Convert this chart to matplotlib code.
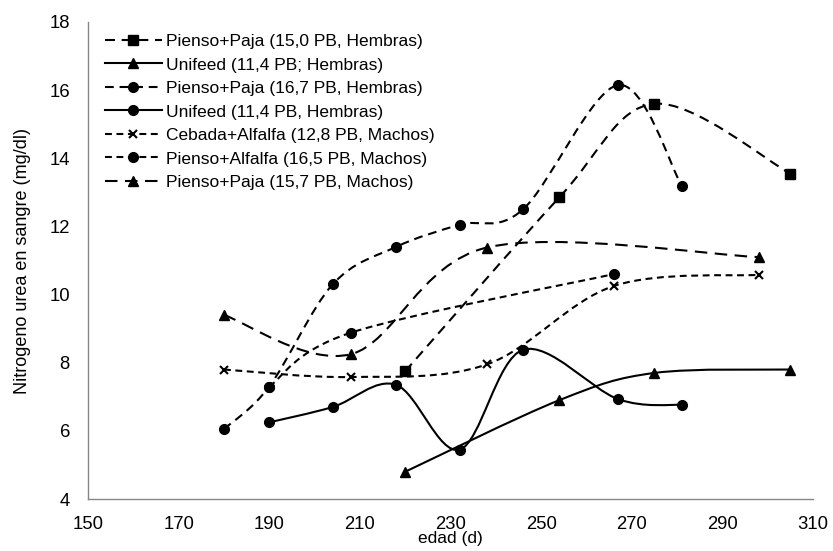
import numpy as np
import matplotlib
matplotlib.use('Agg')
import matplotlib.pyplot as plt
from matplotlib.path import Path
from matplotlib.patches import PathPatch
from matplotlib.lines import Line2D

plt.rcParams['font.family'] = ['Liberation Sans', 'DejaVu Sans']

# Datos
labels = ['Pienso+Paja (15,0 PB, Hembras)',
          'Unifeed (11,4 PB; Hembras)',
          'Pienso+Paja (16,7 PB, Hembras)',
          'Unifeed (11,4 PB, Hembras)',
          'Cebada+Alfalfa (12,8 PB, Machos)',
          'Pienso+Alfalfa (16,5 PB, Machos)',
          'Pienso+Paja (15,7 PB, Machos)']

pp150_x = [220, 254, 275, 305]
pp150_y = [7.75, 12.85, 15.6, 13.55]

uni_tri_x = [220, 254, 275, 305]
uni_tri_y = [4.8, 6.9, 7.7, 7.8]

pp167_x = [180, 190, 204, 218, 232, 246, 267, 281]
pp167_y = [6.05, 7.3, 10.3, 11.4, 12.05, 12.5, 16.15, 13.2]

uni_cir_x = [190, 204, 218, 232, 246, 267, 281]
uni_cir_y = [6.25, 6.7, 7.35, 5.45, 8.38, 6.93, 6.76]

ceb_x = [180, 208, 238, 266, 298]
ceb_y = [7.8, 7.58, 7.95, 10.25, 10.58]

pal_x = [190, 208, 266]
pal_y = [7.3, 8.88, 10.6]

pp157_x = [180, 208, 238, 298]
pp157_y = [9.4, 8.25, 11.38, 11.1]

series_x = [pp150_x, uni_tri_x, pp167_x, uni_cir_x, ceb_x, pal_x, pp157_x]
series_y = [pp150_y, uni_tri_y, pp167_y, uni_cir_y, ceb_y, pal_y, pp157_y]

# estilo de cada serie: (marcador, tamano, guiones)
long_dash = (0, (4.8, 3.2))
dash = (0, (4.2, 2.8))
longer_dash = (0, (6.0, 3.6))
short_dash = (0, (3.3, 2.2))
estilos = [('s', 7, long_dash),
           ('^', 7, '-'),
           ('o', 7, dash),
           ('o', 7, '-'),
           ('x', 6, short_dash),
           ('o', 7, short_dash),
           ('^', 7, longer_dash)]

lw = 1.5


def curva_suave(xs, ys):
    # curva tipo Excel (Bezier con control a 1/6)
    P = np.column_stack([xs, ys]).astype(float)
    n = len(P)
    verts = [P[0]]
    codes = [Path.MOVETO]
    for i in range(n - 1):
        p0 = P[i - 1] if i > 0 else P[i]
        p3 = P[i + 2] if i + 2 < n else P[i + 1]
        c1 = P[i] + (P[i + 1] - p0) / 6
        c2 = P[i + 1] - (p3 - P[i]) / 6
        verts += [c1, c2, P[i + 1]]
        codes += [Path.CURVE4] * 3
    return Path(verts, codes)


fig = plt.figure(figsize=(8.33, 5.51), dpi=100)
ax = fig.add_axes([88 / 833, 1 - 499 / 551, (813 - 88) / 833, (499 - 22) / 551])

handles = []
for xs, ys, lab, (mk, ms, ls) in zip(series_x, series_y, labels, estilos):
    patch = PathPatch(curva_suave(xs, ys), fill=False, edgecolor='black',
                      linewidth=lw, linestyle=ls, capstyle='butt')
    ax.add_patch(patch)
    mew = 1.5 if mk == 'x' else 1
    ax.plot(xs, ys, linestyle='none', marker=mk, markersize=ms,
            color='black', markeredgewidth=mew, zorder=3)
    handles.append(Line2D([], [], color='black', linewidth=lw, linestyle=ls,
                          marker=mk, markersize=ms, markeredgewidth=mew,
                          dash_capstyle='butt'))

ax.set_xlim(150, 310)
ax.set_ylim(4, 18)
ax.set_xticks(range(150, 311, 20))
ax.set_yticks(range(4, 19, 2))
ax.tick_params(length=0, labelsize=13.3, colors='black')
ax.tick_params(axis='x', pad=12)
ax.tick_params(axis='y', pad=13)
for s in ['top', 'right']:
    ax.spines[s].set_visible(False)
for s in ['left', 'bottom']:
    ax.spines[s].set_color('#868686')
    ax.spines[s].set_linewidth(1)

ax.set_xlabel('edad (d)', fontsize=12.5, labelpad=-1)
ax.set_ylabel('Nitrogeno urea en sangre (mg/dl)', fontsize=13, labelpad=13)

ax.legend(handles, labels, loc='upper left', bbox_to_anchor=(0.01, 0.995),
          frameon=False, fontsize=12.5, handlelength=3.3, handletextpad=0.25,
          labelspacing=0.48, borderaxespad=0.15)

fig.savefig('out.png', dpi=100)
